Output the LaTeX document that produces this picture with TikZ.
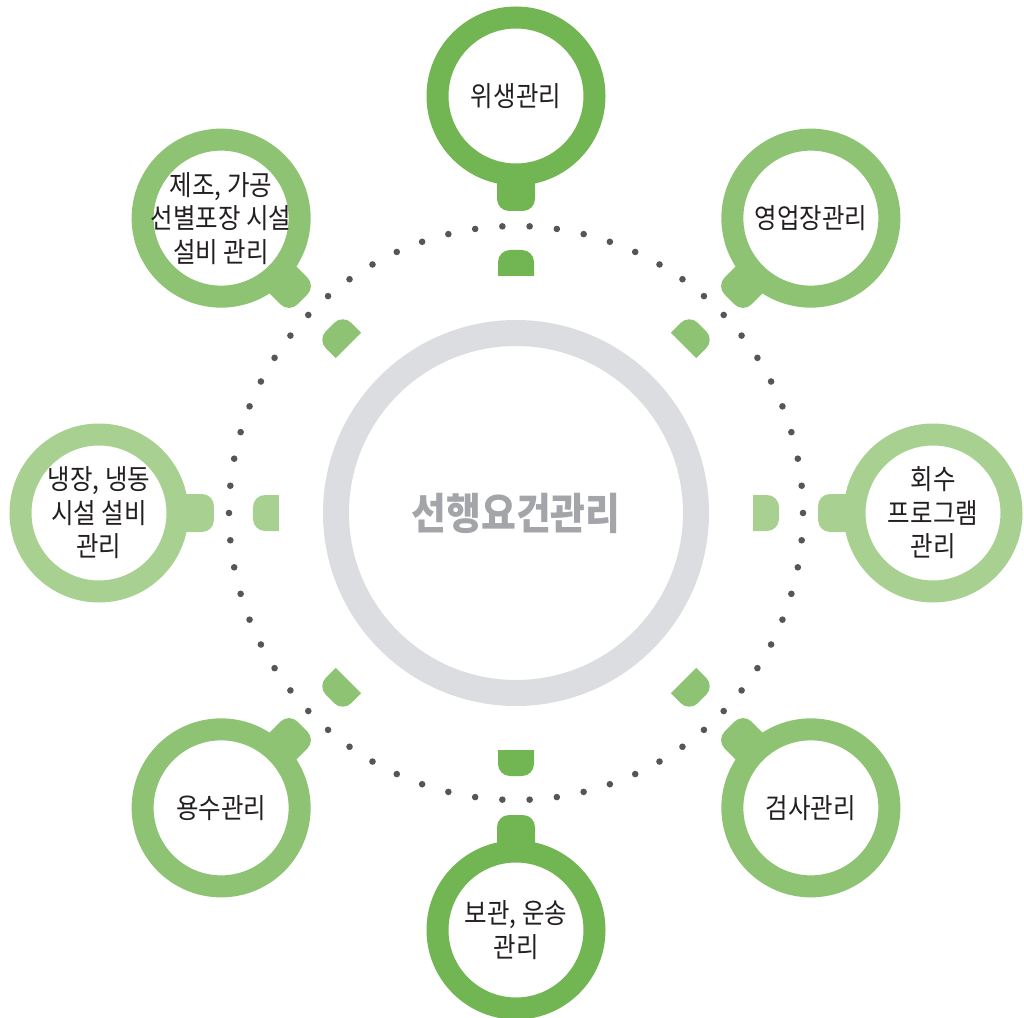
\documentclass[tikz,border=0pt]{standalone}
\usepackage{fontspec}
\newfontfamily\kr[FakeStretch=0.88]{Noto Sans CJK KR}
\definecolor{gdark}{HTML}{71B652}
\definecolor{gmid}{HTML}{8DC373}
\definecolor{glight}{HTML}{A8D090}
\definecolor{ringgray}{HTML}{DCDDE1}
\definecolor{textgray}{HTML}{A4A5A9}
\definecolor{dotc}{HTML}{55555A}
\definecolor{txt}{HTML}{231F20}
\begin{document}
\begin{tikzpicture}[x=1pt,y=1pt,
  item/.style={circle, draw=#1, line width=22pt, minimum size=157pt, inner sep=0pt},
  lbl/.style={align=center, text=txt, inner sep=0pt, font=\kr\fontsize{27.8}{33.5}\selectfont},
  hub/.style={circle, draw=ringgray, line width=26pt, minimum size=360pt, inner sep=0pt},
  hublbl/.style={text=textgray, inner sep=0pt, font=\kr\bfseries\fontsize{43}{48}\selectfont}]
\useasboundingbox (-516,-504) rectangle (508,513);
% dotted ring
\foreach \i in {0,...,65} \fill[dotc] ({\i*5.454545}:287) circle (3.3pt);
% knobs and tabs
\foreach \a/\c in {0/glight,45/gmid,90/gdark,135/gmid,180/glight,225/gmid,270/gdark,315/gmid}{
  \begin{scope}[rotate=\a]
    \fill[\c] (345,-19) -- (314,-19) arc (270:180:12) -- (302,7) arc (180:90:12) -- (345,19) -- cycle;
    \fill[\c] (237,-18) -- (251,-18) arc (-90:0:12) -- (263,6) arc (0:90:12) -- (237,18) -- cycle;
  \end{scope}
}
\node[hub] (hub) at (0,0) {};
\node[hublbl] (hubt) at (hub) {선행요건관리};
\node[item=gdark]  (n90)  at (90:417)  {};
\node[item=gmid]   (n45)  at (45:417)  {};
\node[item=glight] (n0)   at (0:417)   {};
\node[item=gmid]   (n315) at (315:417) {};
\node[item=gdark]  (n270) at (270:417) {};
\node[item=gmid]   (n225) at (225:417) {};
\node[item=glight] (n180) at (180:417) {};
\node[item=gmid]   (n135) at (135:417) {};
\node[lbl] (t90)  at (n90)  {위생관리};
\node[lbl] (t45)  at (n45)  {영업장관리};
\node[lbl] (t0)   at (n0)   {회수\\프로그램\\관리};
\node[lbl] (t315) at (n315) {검사관리};
\node[lbl] (t270) at (n270) {보관, 운송\\관리};
\node[lbl] (t225) at (n225) {용수관리};
\node[lbl] (t180) at (n180) {냉장, 냉동\\시설 설비\\관리};
\node[lbl] (t135) at (n135) {제조, 가공\\선별포장 시설\\설비 관리};
\end{tikzpicture}
\end{document}
